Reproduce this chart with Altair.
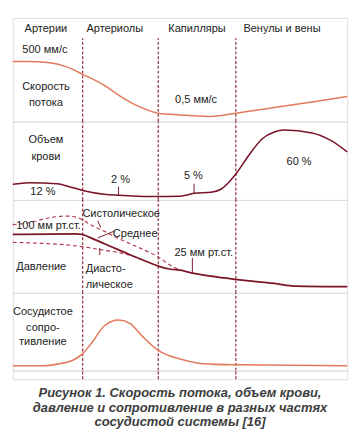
import altair as alt
import pandas as pd

# ---- shared horizontal position along the vascular system (0..100 % of width)
boundaries = [20.9, 43.5, 66.7]
section_names = ["Артерии", "Артериолы", "Капилляры", "Венулы и вены"]
section_centers = [9.9, 30.5, 55.1, 80.5]

# ---- panel 1: flow velocity (relative height 0..100)
vel_x = [0, 4.8, 10.5, 16.1, 20.9, 27.4, 31.6, 36.7, 43.5, 50, 58.5, 66.7, 78.2, 89.5, 100]
vel_y = [58, 58, 57, 52.7, 45.5, 34.8, 25.5, 16, 8, 6.3, 4.8, 8, 13.4, 18.8, 24]

# ---- panel 2: blood volume
vol_x = [0, 4.8, 13.3, 16.9, 20.9, 27.4, 31.6, 41.5, 50, 54.2, 59.3, 62.1, 64.7, 66.7, 70.6, 74.6, 78.2, 81.1, 89.5, 95.2, 100]
vol_y = [19.9, 22, 20.7, 17, 12.2, 7.3, 6.1, 4.5, 4.9, 8.5, 10, 13.4, 23, 33, 57, 78, 86.6, 89, 85.4, 75.6, 61.3]

# ---- panel 3: pressure
mean_x = [0, 18.9, 20.9, 23.2, 27.4, 33.1, 38.7, 43.5, 47.2, 50, 53.7, 61.3, 66.7, 78.2, 84.7, 100]
mean_y = [62.9, 63.6, 62.9, 59.5, 53, 44.2, 35.7, 28.9, 25.5, 24.5, 21.4, 17, 14.6, 10.2, 7.4, 6.8]
sys_x = [0, 4.8, 10.5, 16.1, 18.9, 20.9, 23.2, 27.4, 33.1, 39.5, 43.5, 47.2, 50]
sys_y = [73.5, 75.5, 80.6, 82.7, 81.6, 78.6, 73.5, 66.3, 56.1, 45.9, 38.8, 29.6, 24.5]
dia_x = [0, 8.5, 18, 21.8, 27.4, 33.1, 38.7]
dia_y = [54.4, 53.4, 51, 49.3, 45.9, 42.5, 35.7]

# ---- panel 4: vascular resistance
res_x = [0, 9.3, 13.3, 18.1, 20.9, 23.7, 27.4, 31.6, 35, 38.7, 43.5, 50, 55.6, 59.3, 66.7, 100]
res_y = [6.2, 6.2, 8.3, 13.6, 21.9, 36.2, 57.7, 65.1, 60.9, 44.4, 25.9, 14.8, 9.5, 8.3, 7.4, 6.2]

# ---- labels
p1_text = ["500 мм/с", "Скорость", "потока", "0,5 мм/с"]
p1_tx = [9.6, 9.9, 9.9, 54.8]
p1_ty = [68.8, 33, 17.9, 20.5]

p2_text = ["Объем", "крови", "12 %", "2 %", "5 %", "60 %"]
p2_tx = [9.9, 9.9, 9.0, 32.2, 54.0, 85.6]
p2_ty = [75.6, 54.9, 9.8, 25.6, 30.5, 47.6]
p2_ptr_x = [31.6, 54.2]
p2_ptr_y1 = [17, 20.7]
p2_ptr_y2 = [6.1, 8.5]

p3_text = ["100 мм рт.ст.", "Систолическое", "Среднее", "Давление", "25 мм рт.ст."]
p3_tx = [10.7, 32.4, 36.6, 8.5, 57.1]
p3_ty = [71.4, 84.7, 63.3, 27.6, 42.9]
p3_left_text = ["Диасто-", "лическое"]
p3_left_tx = [21.8, 21.8]
p3_left_ty = [25.5, 8.2]
p3_ptr_x1 = [25.4, 25.4, 26.0, 53.7]
p3_ptr_x2 = [26.3, 30.2, 26.0, 53.7]
p3_ptr_y1 = [77.6, 59.2, 48.3, 37.8]
p3_ptr_y2 = [70.4, 66.3, 40.8, 21.4]

p4_text = ["Сосудистое", "сопро-", "тивление"]
p4_tx = [9.0, 9.0, 9.0]
p4_ty = [75.3, 54.3, 36.2]

caption = ["Рисунок 1. Скорость потока, объем крови,",
           "давление и сопротивление в разных частях",
           "сосудистой системы [16]"]

# ---- styling
W = 349
FONT = "Liberation Sans"
MAROON = "#8a2536"
DARK = "#7a1428"
SALMON = "#e27a5c"
FRAME = "#8c3a44"

X = lambda f="x": alt.X(f"{f}:Q", scale=alt.Scale(domain=[0, 100], nice=False, zero=False), axis=None)
Y = lambda f="y": alt.Y(f"{f}:Q", scale=alt.Scale(domain=[0, 100], nice=False, zero=False), axis=None)


def curve(xs, ys, color, dash=None, width=1.6):
    df = pd.DataFrame({"x": xs, "y": ys})
    kw = dict(color=color, strokeWidth=width, interpolate="monotone")
    if dash:
        kw["strokeDash"] = dash
    return alt.Chart(df).mark_line(**kw).encode(x=X(), y=Y())


def labels(texts, xs, ys, align="center", size=11.5):
    df = pd.DataFrame({"t": texts, "x": xs, "y": ys})
    return alt.Chart(df).mark_text(font=FONT, fontSize=size, color="#222222",
                                   align=align, baseline="middle").encode(
        x=X(), y=Y(), text="t:N")


def dividers(top=100):
    df = pd.DataFrame({"x": boundaries, "y": [0] * len(boundaries), "y2": [top] * len(boundaries)})
    return alt.Chart(df).mark_rule(color=MAROON, strokeWidth=1.2, strokeDash=[3, 2]).encode(
        x=X(), y=Y(), y2="y2:Q")


def pointers(x1, x2, y1, y2):
    df = pd.DataFrame({"x": x1, "x2": x2, "y": y1, "y2": y2})
    return alt.Chart(df).mark_rule(color=DARK, strokeWidth=1).encode(
        x=X(), x2="x2:Q", y=Y(), y2="y2:Q")


header = labels(section_names, section_centers, [89.3] * 4)

p1 = alt.layer(
    dividers(80.4), curve(vel_x, vel_y, SALMON), header,
    labels(p1_text, p1_tx, p1_ty),
).properties(width=W, height=108)

p2 = alt.layer(
    dividers(), curve(vol_x, vol_y, DARK),
    pointers(p2_ptr_x, p2_ptr_x, p2_ptr_y1, p2_ptr_y2),
    labels(p2_text, p2_tx, p2_ty),
).properties(width=W, height=82)

p3 = alt.layer(
    dividers(),
    curve(sys_x, sys_y, "#b0384a", dash=[4, 3], width=1.2),
    curve(dia_x, dia_y, "#b0384a", dash=[4, 3], width=1.2),
    curve(mean_x, mean_y, DARK, width=1.8),
    pointers(p3_ptr_x1, p3_ptr_x2, p3_ptr_y1, p3_ptr_y2),
    labels(p3_text, p3_tx, p3_ty),
    labels(p3_left_text, p3_left_tx, p3_left_ty, align="left"),
).properties(width=W, height=97)

p4 = alt.layer(
    dividers(), curve(res_x, res_y, SALMON),
    labels(p4_text, p4_tx, p4_ty),
).properties(width=W, height=81)

strip = dividers().properties(width=W, height=9)

chart = alt.vconcat(p1, p2, p3, p4, strip, spacing=0, bounds="flush").properties(
    padding=0,
    title=alt.TitleParams(text=caption, orient="bottom", anchor="middle",
                          font=FONT, fontSize=13.5, fontStyle="italic",
                          fontWeight="bold", color="#3d3d3d", lineHeight=15,
                          offset=7),
).configure_view(stroke=FRAME, strokeWidth=1.5).configure(background="white")

chart.save("out.html", embed_options={"renderer": "svg", "actions": False})
